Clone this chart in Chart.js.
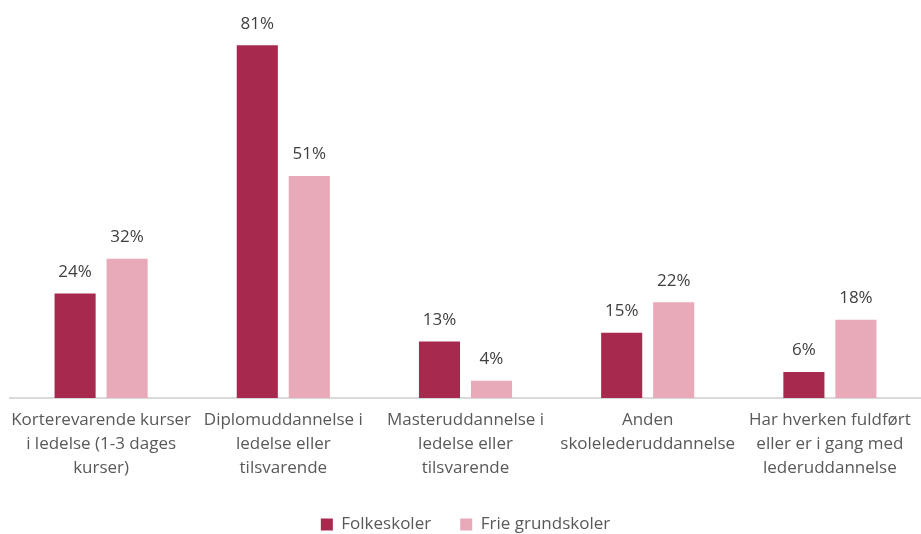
<!DOCTYPE html>
<html>
<head>
<meta charset="utf-8">
<script src="https://cdn.jsdelivr.net/npm/chart.js@4"></script>
<style>
  html, body { margin: 0; padding: 0; background: #fff; overflow: hidden; }
  #wrap { width: 921px; height: 543px; }
</style>
</head>
<body>
<div id="wrap"><canvas id="myChart"></canvas></div>
<script>
const categories = [
  ['Korterevarende kurser', 'i ledelse (1-3 dages', 'kurser)'],
  ['Diplomuddannelse i', 'ledelse eller', 'tilsvarende'],
  ['Masteruddannelse i', 'ledelse eller', 'tilsvarende'],
  ['Anden', 'skolelederuddannelse'],
  ['Har hverken fuldført', 'eller er i gang med', 'lederuddannelse']
];
const folkeskoler = [24, 81, 13, 15, 6];
const frieGrundskoler = [32, 51, 4, 22, 18];

const fontFamily = '"Open Sans", "Noto Sans", sans-serif';

// draws the % labels above each bar
const valueLabels = {
  id: 'valueLabels',
  afterDatasetsDraw(chart) {
    const c = chart.ctx;
    c.save();
    c.font = '17px ' + fontFamily;
    c.fillStyle = '#404040';
    c.textAlign = 'center';
    c.textBaseline = 'bottom';
    chart.data.datasets.forEach((ds, i) => {
      chart.getDatasetMeta(i).data.forEach((bar, j) => {
        c.fillText(ds.data[j] + '%', bar.x, bar.y - 13);
      });
    });
    c.restore();
  }
};

let ctx = document.getElementById('myChart').getContext('2d');

const data = {
  labels: categories,
  datasets: [{
    label: 'Folkeskoler',
    data: folkeskoler,
    backgroundColor: '#a8294e',
    categoryPercentage: 0.571,
    barPercentage: 0.79
  }, {
    label: 'Frie grundskoler',
    data: frieGrundskoler,
    backgroundColor: '#e8a9b8',
    categoryPercentage: 0.571,
    barPercentage: 0.79
  }]
};

const config = {
  type: 'bar',
  data: data,
  plugins: [valueLabels],
  options: {
    responsive: true,
    maintainAspectRatio: false,
    animation: false,
    layout: { padding: { left: 10, right: 0, top: 6, bottom: 0 } },
    scales: {
      x: {
        grid: { display: false },
        border: { color: '#d9d9d9', width: 2 },
        ticks: {
          color: '#595959',
          font: { family: fontFamily, size: 17, lineHeight: 1.41 },
          maxRotation: 0,
          autoSkip: false,
          padding: 2
        },
        afterFit(scale) {
          scale.height += 27;
        }
      },
      y: {
        display: false,
        min: 0,
        max: 90
      }
    },
    plugins: {
      legend: {
        position: 'bottom',
        labels: {
          boxWidth: 12,
          boxHeight: 12,
          color: '#595959',
          font: { family: fontFamily, size: 17 },
          padding: 7,
          generateLabels(chart) {
            const items = Chart.defaults.plugins.legend.labels.generateLabels(chart);
            items[0].text = items[0].text + '     ';
            return items;
          }
        }
      },
      tooltip: { enabled: false }
    }
  }
};

let chart = new Chart(ctx, config);
</script>
</body>
</html>
